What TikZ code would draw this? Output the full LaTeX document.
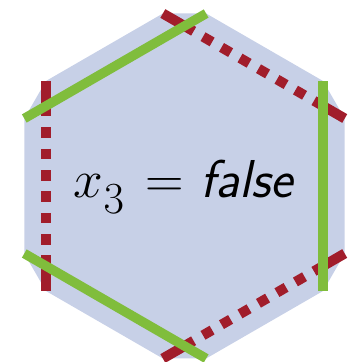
\documentclass[tikz,border=0pt]{standalone}
\usepackage{tikz}
\usetikzlibrary{calc}
\definecolor{hexFill}{HTML}{C7D0E7}
\definecolor{clauseRed}{HTML}{A11D2B}
\definecolor{clauseGreen}{HTML}{80BD3C}
\tikzset{
  hexBody/.style={fill=hexFill, draw=none},
  greenEdge/.style={clauseGreen, line width=0.19cm},
  redEdge/.style={clauseRed, line width=0.2cm},
  redDashed/.style={redEdge, dash pattern=on 0.21cm off 0.2171cm},
  varLabel/.style={font=\Huge, scale=1.22, inner sep=0pt}
}

\begin{document}
\begin{tikzpicture}[x=0.02cm,y=0.02cm]
  \useasboundingbox (0,0) rectangle (353,362);
  \coordinate (c) at (184.5,176);
  \foreach \i in {0,...,5}
    \coordinate (v\i) at ($(c)+(90+60*\i:160)$);
  % edge ends sticking out past each corner
  \foreach \i [evaluate=\i as \prev using {int(mod(\i+5,6))},
               evaluate=\i as \next using {int(mod(\i+1,6))}] in {0,...,5} {
    \coordinate (p\i) at ($(v\i)!-0.5cm!(v\prev)$);
    \coordinate (n\i) at ($(v\i)!-0.5cm!(v\next)$);
  }

  \fill[hexBody] (p0) -- (n0) -- (p5) -- (n5) -- (p4) -- (n4)
    -- (p3) -- (n3) -- (p2) -- (n2) -- (p1) -- (n1) -- cycle;

  \foreach \i [evaluate=\i as \next using {int(mod(\i+1,6))}] in {1,3,5} {
    \draw[redEdge] (n\i) -- (v\i) (v\next) -- (p\next);
    \draw[redDashed] (v\i) -- (v\next);
  }
  \foreach \i [evaluate=\i as \next using {int(mod(\i+1,6))}] in {0,2,4}
    \draw[greenEdge] (n\i) -- (p\next);

  \node[varLabel] (label) at ($(c)+(0,-1)$)
    {$x_{\lower0.14em\hbox{$\scriptstyle 3$}}\mkern2mu =$ \textsf{\textit{false}}};
\end{tikzpicture}
\end{document}
